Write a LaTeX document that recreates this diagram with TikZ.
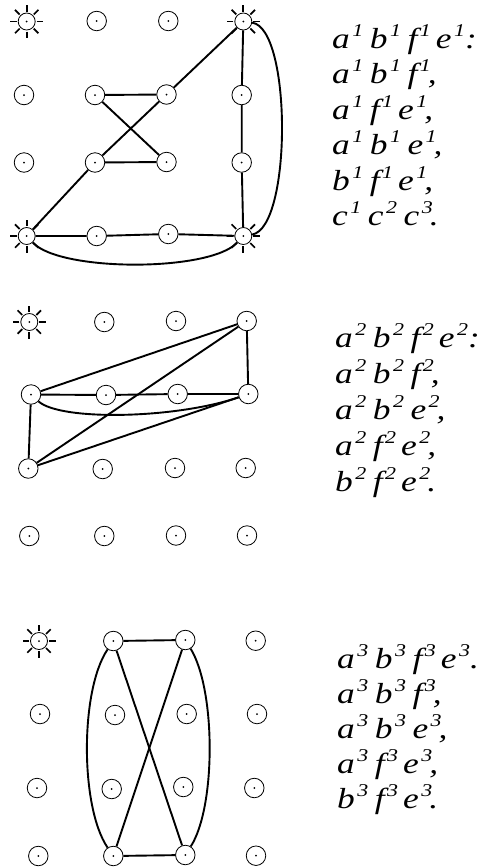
\documentclass[tikz,border=0pt]{standalone}
\usepackage{fontspec}
\newfontfamily\tf{Liberation Serif}[FakeStretch=1.22]
\newcommand\supsz{\fontsize{18pt}{18pt}\selectfont}
\newcommand\su[1]{\kern2.5pt\raisebox{12pt}{\supsz #1}\kern6.5pt}
\newcommand\suf[1]{\kern2.5pt\raisebox{12pt}{\supsz #1}\kern5pt}
\newcommand\sue[1]{\kern2.5pt\raisebox{12pt}{\supsz #1}}
\newcommand\sufe[1]{\kern2.5pt\raisebox{12pt}{\supsz #1}}
\tikzset{
  pt/.style={circle, draw, line width=0.8pt, minimum size=19.5pt, inner sep=0pt,
    path picture={\fill (path picture bounding box.center) circle (1pt);}},
  sunpt/.style={pt, minimum size=17pt},
  edge/.style={line width=1.9pt},
  ray/.style={line width=1.7pt},
  txt/.style={anchor=base west, inner sep=0pt, font=\tf\itshape\fontsize{29pt}{35pt}\selectfont}
}
\begin{document}
\begin{tikzpicture}[x=1pt,y=-1pt]
\useasboundingbox (0,0) rectangle (486,868);
% ---------- panel 1 ----------
\node[sunpt] (a11) at (26.7,21.5) {};
\node[pt] (a12) at (96.7,21) {};
\node[pt] (a13) at (168.3,21) {};
\node[sunpt] (a14) at (243.3,21.5) {};
\node[pt] (a21) at (24,95) {};
\node[pt] (a22) at (95,95) {};
\node[pt] (a23) at (166.5,94.5) {};
\node[pt] (a24) at (241.7,95) {};
\node[pt] (a31) at (24,162.5) {};
\node[pt] (a32) at (95,162.5) {};
\node[pt] (a33) at (166.5,162) {};
\node[pt] (a34) at (241.7,162.5) {};
\node[sunpt] (a41) at (26.7,236) {};
\node[pt] (a42) at (96.7,236) {};
\node[pt] (a43) at (168.3,234) {};
\node[sunpt] (a44) at (243.3,236) {};
\draw[edge] (a22) -- (a23);
\draw[edge] (a32) -- (a33);
\draw[edge] (a22) -- (a33);
\draw[edge] (a41) -- (a32) -- (a23) -- (a14);
\draw[edge] (a14) -- (a24) -- (a34) -- (a44);
\draw[edge] (a41) -- (a42) -- (a43) -- (a44);
\draw[edge] (a14) .. controls (292,28) and (292,228) .. (a44);
\draw[edge] (a41) .. controls (60,272) and (210,272) .. (a44);
% ---------- panel 2 ----------
\node[sunpt] (b11) at (29.3,322) {};
\node[pt] (b12) at (104.3,322) {};
\node[pt] (b13) at (176,321) {};
\node[pt] (b14) at (246.7,321) {};
\node[pt] (b21) at (31,394.5) {};
\node[pt] (b22) at (106,395) {};
\node[pt] (b23) at (177.7,394) {};
\node[pt] (b24) at (248.3,394) {};
\node[pt] (b31) at (28.3,468.5) {};
\node[pt] (b32) at (102.7,469) {};
\node[pt] (b33) at (175,468) {};
\node[pt] (b34) at (245.7,468) {};
\node[pt] (b41) at (29.3,536) {};
\node[pt] (b42) at (104.3,536) {};
\node[pt] (b43) at (176,535.5) {};
\node[pt] (b44) at (247,535.5) {};
\draw[edge] (b14) -- (b21);
\draw[edge] (b14) -- (b31);
\draw[edge] (b14) -- (b24);
\draw[edge] (b21) -- (b22) -- (b23) -- (b24);
\draw[edge] (b21) -- (b31);
\draw[edge] (b31) -- (b24);
\draw[edge] (b21) .. controls (60,421) and (175,419) .. (b24);
% ---------- panel 3 ----------
\node[sunpt] (c11) at (39,641) {};
\node[pt] (c12) at (113.3,641) {};
\node[pt] (c13) at (185.3,640) {};
\node[pt] (c14) at (255.7,640.7) {};
\node[pt] (c21) at (40,714) {};
\node[pt] (c22) at (115,715) {};
\node[pt] (c23) at (186.7,714) {};
\node[pt] (c24) at (257,714) {};
\node[pt] (c31) at (37,788) {};
\node[pt] (c32) at (111.7,789) {};
\node[pt] (c33) at (183.3,787) {};
\node[pt] (c34) at (254.3,788) {};
\node[pt] (c41) at (38.3,856) {};
\node[pt] (c42) at (113.3,856) {};
\node[pt] (c43) at (185.3,855) {};
\node[pt] (c44) at (256,855.7) {};
\draw[edge] (c12) -- (c13);
\draw[edge] (c42) -- (c43);
\draw[edge] (c12) -- (c43);
\draw[edge] (c13) -- (c42);
\draw[edge] (c12) .. controls (80,690) and (80,807) .. (c42);
\draw[edge] (c13) .. controls (216,690) and (216,807) .. (c43);
% ---------- sun rays ----------
\foreach \n in {a11,a14,a41,a44,b11,c11}
  \foreach \a in {0,45,...,315}
    \draw[ray] (\n.center) ++(\a:10) -- ++(\a:6.5);
% ---------- texts ----------
\node[txt] (t10) at (332,48) {a\su{1}b\su{1}f\suf{1}e\sue{1}:};
\node[txt] (t11) at (332,83.5) {a\su{1}b\su{1}f\sufe{1}\kern-3pt,};
\node[txt] (t12) at (332,119) {a\su{1}f\suf{1}e\sue{1}\kern-3pt,};
\node[txt] (t13) at (332,154.5) {a\su{1}b\su{1}e\sue{1}\kern-3pt,};
\node[txt] (t14) at (332,190) {b\su{1}f\suf{1}e\sue{1}\kern-3pt,};
\node[txt] (t15) at (332,225.5) {c\su{1}c\su{2}c\sue{3}\kern-3pt.};
\node[txt] (t20) at (335,347) {a\su{2}b\su{2}f\suf{2}e\sue{2}:};
\node[txt] (t21) at (335,383) {a\su{2}b\su{2}f\sufe{2}\kern-3pt,};
\node[txt] (t22) at (335,419) {a\su{2}b\su{2}e\sue{2}\kern-3pt,};
\node[txt] (t23) at (335,455) {a\su{2}f\suf{2}e\sue{2}\kern-3pt,};
\node[txt] (t24) at (335,491) {b\su{2}f\suf{2}e\sue{2}\kern-3pt.};
\node[txt] (t30) at (337,668) {a\su{3}b\su{3}f\suf{3}e\sue{3}.};
\node[txt] (t31) at (337,703) {a\su{3}b\su{3}f\sufe{3}\kern-3pt,};
\node[txt] (t32) at (337,738) {a\su{3}b\su{3}e\sue{3}\kern-3pt,};
\node[txt] (t33) at (337,773) {a\su{3}f\suf{3}e\sue{3}\kern-3pt,};
\node[txt] (t34) at (337,808) {b\su{3}f\suf{3}e\sue{3}\kern-3pt.};
\end{tikzpicture}
\end{document}
